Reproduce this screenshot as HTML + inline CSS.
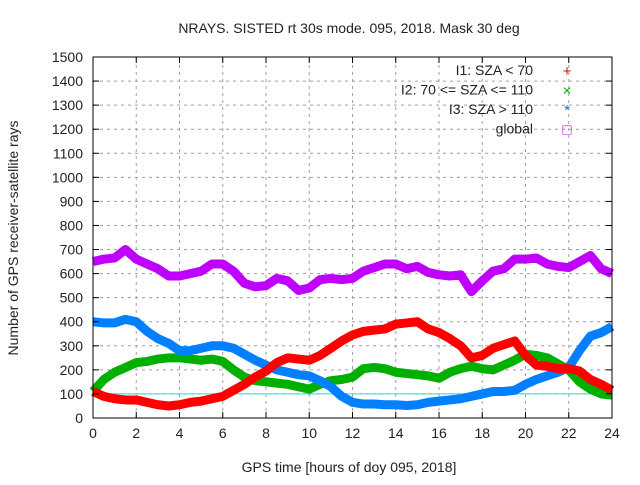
<!DOCTYPE html>
<html><head><meta charset="utf-8"><style>
body{margin:0;background:#fff}
svg text{font-family:"Liberation Sans",sans-serif;font-size:14px;fill:#222}
</style></head><body>
<svg id="c" width="640" height="480" xmlns="http://www.w3.org/2000/svg">
<rect width="640" height="480" fill="#fff"/>
<text x="349" y="33" text-anchor="middle">NRAYS. SISTED rt 30s mode. 095, 2018. Mask 30 deg</text>
<text x="349" y="472" text-anchor="middle">GPS time [hours of doy 095, 2018]</text>
<text transform="translate(18,238) rotate(-90)" text-anchor="middle">Number of GPS receiver-satellite rays</text>
<g id="grid"></g><g id="series"></g><g id="axes"></g><g id="legend"></g>
</svg>
<script>
const hours=[0,0.5,1,1.5,2,2.5,3,3.5,4,4.5,5,5.5,6,6.5,7,7.5,8,8.5,9,9.5,10,10.5,11,11.5,12,12.5,13,13.5,14,14.5,15,15.5,16,16.5,17,17.5,18,18.5,19,19.5,20,20.5,21,21.5,22,22.5,23,23.5,24];
const globalVals=[650,660,665,700,660,640,620,590,590,600,610,640,640,610,560,545,550,580,570,530,540,575,580,575,580,610,625,640,640,620,630,605,595,590,595,525,570,610,620,660,660,665,640,630,625,650,675,620,600];
const i3Vals=[400,395,395,410,400,360,330,310,280,280,290,300,300,290,265,240,220,200,190,180,175,155,130,90,65,58,58,55,55,52,55,65,70,75,80,90,100,110,110,115,140,160,175,190,210,280,340,355,380];
const i2Vals=[110,160,190,210,230,235,245,250,250,245,240,245,235,200,170,155,150,145,140,130,120,140,155,160,170,205,210,205,190,185,180,175,165,190,205,215,205,200,220,240,265,260,250,225,200,150,120,100,95];
const i1Vals=[110,90,80,75,75,65,55,50,55,65,70,80,90,115,140,170,195,230,250,245,240,260,290,320,345,360,365,370,390,395,400,370,355,330,300,250,260,290,305,320,260,220,215,205,205,195,160,140,115];
const xTicks=[0,2,4,6,8,10,12,14,16,18,20,22,24];
const yTicks=[0,100,200,300,400,500,600,700,800,900,1000,1100,1200,1300,1400,1500];
const refLine=100;
const X0=93,X1=612,Y0=418,Y1=57;
const xs=h=>X0+(X1-X0)*h/24, ys=v=>Y0-(Y0-Y1)*v/1500;
const NS="http://www.w3.org/2000/svg";
function mk(t,a,p){const e=document.createElementNS(NS,t);for(const k in a)e.setAttribute(k,a[k]);p.appendChild(e);return e;}
const grid=document.getElementById('grid'),axes=document.getElementById('axes'),ser=document.getElementById('series'),leg=document.getElementById('legend');
yTicks.forEach(v=>{
 if(v>0&&v<1500){const g=mk('line',{x1:X0,x2:X1,y1:ys(v),y2:ys(v),stroke:'#a0a0a0','stroke-dasharray':'3,4'},grid);
 
 }
 const t=mk('text',{x:X0-10,y:ys(v)+5,'text-anchor':'end'},axes);t.textContent=v;
 
 
 mk('line',{x1:X0,x2:X0+6,y1:ys(v),y2:ys(v),stroke:'#000'},axes);
 mk('line',{x1:X1,x2:X1-6,y1:ys(v),y2:ys(v),stroke:'#000'},axes);
});
xTicks.forEach(h=>{
 if(h>0&&h<24){const g=mk('line',{x1:xs(h),x2:xs(h),y1:Y0,y2:Y1,stroke:'#a0a0a0','stroke-dasharray':'3,4'},grid);
 
 }
 const t=mk('text',{x:xs(h),y:Y0+20,'text-anchor':'middle'},axes);t.textContent=h;
 
 
 mk('line',{x1:xs(h),x2:xs(h),y1:Y0,y2:Y0-6,stroke:'#000'},axes);
 mk('line',{x1:xs(h),x2:xs(h),y1:Y1,y2:Y1+6,stroke:'#000'},axes);
});
const rl=mk('line',{x1:X0,x2:X1,y1:ys(refLine),y2:ys(refLine),stroke:'#30d8d8'},ser);


const series=[['series-global',globalVals,'#c000ff'],['series-i2',i2Vals,'#00b000'],['series-i3',i3Vals,'#0080ff'],['series-i1',i1Vals,'#ff0000']];
series.forEach(([n,vals,col])=>{
 const p=mk('polyline',{points:vals.map((v,i)=>xs(hours[i])+','+ys(v)).join(' '),fill:'none',stroke:col,'stroke-width':9,'stroke-linejoin':'round'},ser);
 
 
});
const fr=mk('rect',{x:X0,y:Y1,width:X1-X0,height:Y0-Y1,fill:'none',stroke:'#000'},axes);


const legItems=[['I1: SZA < 70','#ff0000','+'],['I2: 70 <= SZA <= 110','#00b000','×'],['I3: SZA > 110','#0080ff','*'],['global','#c000ff','□']];
legItems.forEach(([l,c,s],i)=>{
 const y=75+i*19.5;
 const t=mk('text',{x:533,y:y,'text-anchor':'end'},leg);t.textContent=l;
 
 
 const m=mk('text',{x:567,y:y+1,'text-anchor':'middle',style:'fill:'+c+';font-size:15px'},leg);m.textContent=s;
 
 
});
</script>
</body></html>
